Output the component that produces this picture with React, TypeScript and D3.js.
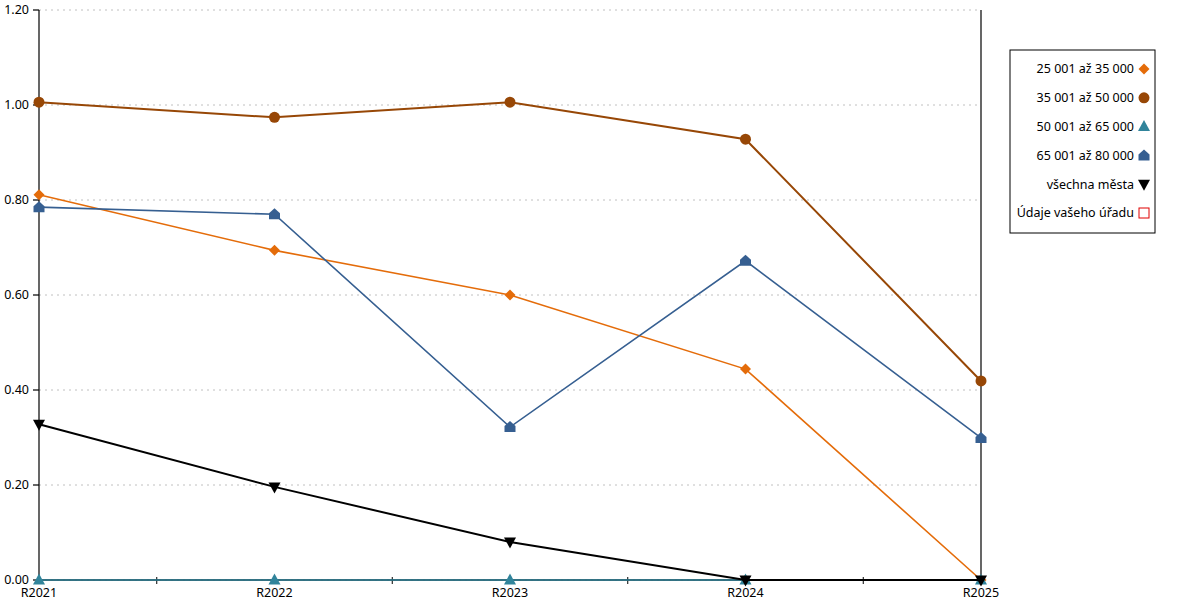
import React from "react";
import * as d3 from "d3";

const categories = ["R2021", "R2022", "R2023", "R2024", "R2025"];
const seriesNames = [
  "25 001 až 35 000",
  "35 001 až 50 000",
  "50 001 až 65 000",
  "65 001 až 80 000",
  "všechna města",
];
const s25001 = [0.811, 0.694, 0.6, 0.444, 0];
const s35001 = [1.006, 0.974, 1.006, 0.928, 0.419];
const s50001 = [0, 0, 0, 0, 0];
const s65001 = [0.785, 0.77, 0.322, 0.672, 0.299];
const sAll = [0.328, 0.196, 0.08, 0, 0];
const legendExtra = "Údaje vašeho úřadu";
const yTicks = [0, 0.2, 0.4, 0.6, 0.8, 1.0, 1.2];

const colors = ["#E46C0A", "#974706", "#31849B", "#365F91", "#000000"];
const markers = ["diamond", "circle", "triUp", "house", "triDown"];
const allValues = [s25001, s35001, s50001, s65001, sAll];

const FONT = "'Noto Sans', sans-serif";
const FS = 12.5;

function markerPath(kind: string, cx: number, cy: number): string {
  const s = 5.5;
  switch (kind) {
    case "diamond":
      return `M${cx},${cy - s}L${cx + s},${cy}L${cx},${cy + s}L${cx - s},${cy}Z`;
    case "triUp":
      return `M${cx},${cy - s - 1}L${cx + s + 0.5},${cy + s - 1}L${cx - s - 0.5},${cy + s - 1}Z`;
    case "triDown":
      return `M${cx},${cy + s + 1}L${cx + s + 0.5},${cy - s + 1}L${cx - s - 0.5},${cy - s + 1}Z`;
    case "house":
      return `M${cx},${cy - s - 0.5}L${cx + s},${cy - 1}L${cx + s},${cy + s - 0.5}L${cx - s},${cy + s - 0.5}L${cx - s},${cy - 1}Z`;
    default:
      return "";
  }
}

function Marker({ kind, x, y, color }: { kind: string; x: number; y: number; color: string }) {
  if (kind === "circle") return <circle cx={x} cy={y} r={5.5} fill={color} />;
  return <path d={markerPath(kind, x, y)} fill={color} />;
}

export default function App() {
  const left = 39;
  const right = 981;
  const top = 10;
  const bottom = 580;

  const x = d3.scalePoint<string>().domain(categories).range([left, right]);
  const y = d3.scaleLinear().domain([0, 1.2]).range([bottom, top]);
  const step = x.step();

  const line = d3
    .line<number>()
    .x((_, i) => x(categories[i]) as number)
    .y((d) => y(d));

  const midTicks = categories.slice(0, -1).map((c) => (x(c) as number) + step / 2);

  const legendX = 1010;
  const legendY = 50;
  const legendW = 145;
  const legendH = 183;
  const rowH = 28.8;
  const legendItems = seriesNames.map((n, i) => ({ name: n, color: colors[i], kind: markers[i] }));

  return (
    <svg
      width={1200}
      height={600}
      style={{ position: "absolute", left: 0, top: 0, background: "#fff" }}
      fontFamily={FONT}
    >
      {/* gridlines */}
      {yTicks.map((t) => (
        <line
          key={"g" + t}
          x1={left}
          x2={right}
          y1={y(t)}
          y2={y(t)}
          stroke="#c0c0c0"
          strokeWidth={1}
          strokeDasharray="2,4"
        />
      ))}
      {/* y axis */}
      <line x1={left} x2={left} y1={top} y2={bottom} stroke="#000" strokeWidth={1.2} />
      {yTicks.map((t) => (
        <g key={"yt" + t}>
          <line x1={left - 6} x2={left} y1={y(t)} y2={y(t)} stroke="#000" strokeWidth={1.2} />
          <text x={left - 10} y={y(t)} dy="0.35em" textAnchor="end" fontSize={FS} fill="#000">
            {d3.format(".2f")(t)}
          </text>
        </g>
      ))}
      {/* right line */}
      <line x1={right} x2={right} y1={top} y2={bottom} stroke="#000" strokeWidth={1.2} />
      {/* x axis */}
      <line x1={left} x2={right} y1={bottom} y2={bottom} stroke="#000" strokeWidth={1.5} />
      {midTicks.map((mx, i) => (
        <line key={"xt" + i} x1={mx} x2={mx} y1={bottom - 3} y2={bottom + 4} stroke="#000" strokeWidth={1} />
      ))}
      {categories.map((c) => (
        <text key={"xl" + c} x={x(c) as number} y={bottom + 17} textAnchor="middle" fontSize={FS} fill="#000">
          {c}
        </text>
      ))}
      {/* series */}
      {allValues.map((vals, si) => (
        <g key={"s" + si}>
          <path d={line(vals) || ""} fill="none" stroke={colors[si]} strokeWidth={si === 1 || si === 4 ? 2 : 1.6} />
          {vals.map((v, i) => (
            <Marker key={i} kind={markers[si]} x={x(categories[i]) as number} y={y(v)} color={colors[si]} />
          ))}
        </g>
      ))}
      {/* legend */}
      <rect x={legendX} y={legendY} width={legendW} height={legendH} fill="#fff" stroke="#000" strokeWidth={1} />
      {legendItems.map((it, i) => {
        const cy = legendY + 19 + i * rowH;
        return (
          <g key={"l" + i}>
            <text x={legendX + 124} y={cy} dy="0.35em" textAnchor="end" fontSize={FS} fill="#000">
              {it.name}
            </text>
            <Marker kind={it.kind} x={legendX + 134} y={cy} color={it.color} />
          </g>
        );
      })}
      <g>
        <text
          x={legendX + 124}
          y={legendY + 19 + 5 * rowH}
          dy="0.35em"
          textAnchor="end"
          fontSize={FS}
          fill="#000"
        >
          {legendExtra}
        </text>
        <rect
          x={legendX + 129}
          y={legendY + 19 + 5 * rowH - 5}
          width={10}
          height={10}
          fill="#fff"
          stroke="#e00000"
          strokeWidth={1}
        />
      </g>
    </svg>
  );
}
